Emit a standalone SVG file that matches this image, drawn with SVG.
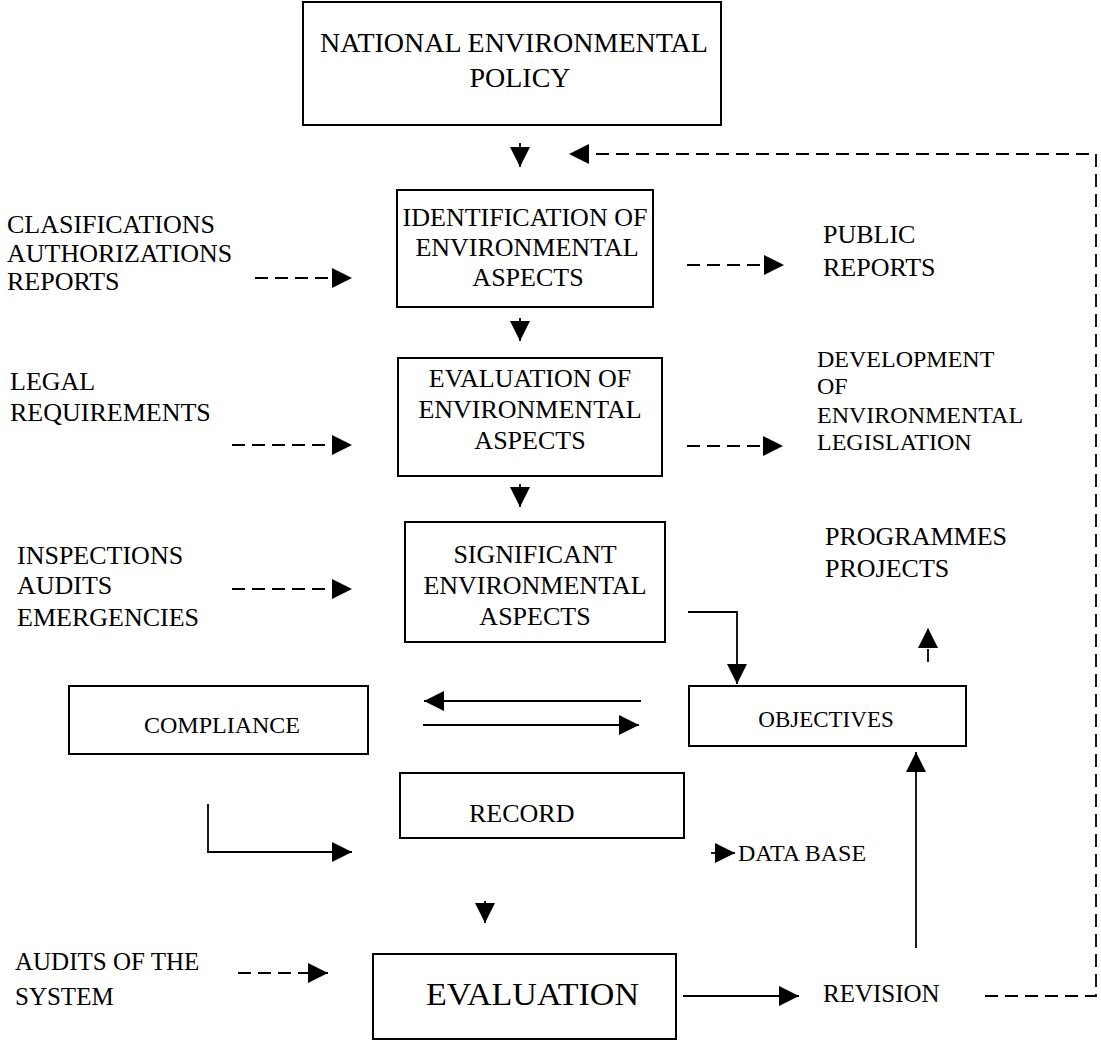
<svg xmlns="http://www.w3.org/2000/svg" width="1101" height="1041" viewBox="0 0 1101 1041">
<defs>
<marker id="ah" markerUnits="userSpaceOnUse" markerWidth="20" markerHeight="20" viewBox="0 0 20 20" refX="20" refY="10" orient="auto">
<path d="M0,0 L20,10 L0,20 z" fill="#000" stroke="none"/>
</marker>
<style>
.box{fill:#fff;stroke:#000;stroke-width:2}
text{font-family:"Liberation Serif","Times New Roman",serif;fill:#000}
.c{text-anchor:middle}
.f26{font-size:26px}
.con{fill:none;stroke:#000;stroke-width:1.8}
.d{stroke-dasharray:13 7}
.a{marker-end:url(#ah)}
</style>
</defs>
<rect width="1101" height="1041" fill="#fff"/>
<g id="n-policy">
<rect class="box" x="303" y="2" width="418" height="123"/>
<text class="c" x="514" y="52" font-size="28">NATIONAL ENVIRONMENTAL</text>
<text class="c" x="520" y="87" font-size="28">POLICY</text>
</g>
<g id="n-identification">
<rect class="box" x="397" y="190" width="256" height="117"/>
<text class="c f26" x="525" y="226">IDENTIFICATION OF</text>
<text class="c f26" x="527" y="256">ENVIRONMENTAL</text>
<text class="c f26" x="528" y="286">ASPECTS</text>
</g>
<g id="n-evaluation-aspects">
<rect class="box" x="398" y="358" width="264" height="118"/>
<text class="c f26" x="530" y="387">EVALUATION OF</text>
<text class="c f26" x="530" y="418">ENVIRONMENTAL</text>
<text class="c f26" x="530" y="449">ASPECTS</text>
</g>
<g id="n-significant">
<rect class="box" x="405" y="522" width="260" height="120"/>
<text class="c f26" x="535" y="563">SIGNIFICANT</text>
<text class="c f26" x="535" y="594">ENVIRONMENTAL</text>
<text class="c f26" x="535" y="625">ASPECTS</text>
</g>
<g id="n-compliance">
<rect class="box" x="69" y="686" width="299" height="68"/>
<text class="c" x="222" y="733" font-size="24">COMPLIANCE</text>
</g>
<g id="n-objectives">
<rect class="box" x="689" y="686" width="277" height="60"/>
<text class="c" x="826" y="727" font-size="23">OBJECTIVES</text>
</g>
<g id="n-record">
<rect class="box" x="400" y="773" width="284" height="65"/>
<text class="f26" x="469" y="822">RECORD</text>
</g>
<g id="n-evaluation">
<rect class="box" x="373" y="954" width="303" height="85"/>
<text x="426" y="1005" font-size="32" textLength="213" lengthAdjust="spacingAndGlyphs">EVALUATION</text>
</g>
<g id="n-classifications">
<text class="f26" x="7" y="233">CLASIFICATIONS</text>
<text class="f26" x="7" y="262">AUTHORIZATIONS</text>
<text class="f26" x="7" y="290">REPORTS</text>
</g>
<g id="n-public">
<text class="f26" x="823" y="243">PUBLIC</text>
<text class="f26" x="823" y="276">REPORTS</text>
</g>
<g id="n-legal">
<text class="f26" x="10" y="390">LEGAL</text>
<text class="f26" x="10" y="421">REQUIREMENTS</text>
</g>
<g id="n-development">
<text x="817" y="367" font-size="24">DEVELOPMENT</text>
<text x="817" y="394" font-size="24">OF</text>
<text x="817" y="423" font-size="24">ENVIRONMENTAL</text>
<text x="817" y="450" font-size="24">LEGISLATION</text>
</g>
<g id="n-inspections">
<text class="f26" x="17" y="564">INSPECTIONS</text>
<text class="f26" x="17" y="594">AUDITS</text>
<text class="f26" x="17" y="626">EMERGENCIES</text>
</g>
<g id="n-programmes">
<text class="f26" x="825" y="545">PROGRAMMES</text>
<text class="f26" x="825" y="577">PROJECTS</text>
</g>
<g id="n-database">
<text x="738" y="861" font-size="24">DATA BASE</text>
</g>
<g id="n-audits-system">
<text x="15" y="970" font-size="25">AUDITS OF THE</text>
<text x="15" y="1005" font-size="25">SYSTEM</text>
</g>
<g id="n-revision">
<text x="823" y="1002" font-size="25">REVISION</text>
</g>
<g id="connectors">
<path class="con a" d="M520,143 L520,167"/>
<path class="con d a" d="M985,996 L1096,996 L1096,154 L569,154"/>
<path class="con d a" d="M255,278 L352,278"/>
<path class="con d a" d="M687,265 L784,265"/>
<path class="con a" d="M520,318 L520,341"/>
<path class="con d a" d="M232,445 L352,445"/>
<path class="con d a" d="M687,446 L783,446"/>
<path class="con a" d="M520,484 L520,507"/>
<path class="con d a" d="M232,589 L352,589"/>
<path class="con a" d="M688,612 L737,612 L737,684"/>
<path class="con d a" d="M928,662 L928,628"/>
<path class="con a" d="M641,701 L424,701"/>
<path class="con a" d="M423,725 L639,725"/>
<path class="con a" d="M208,804 L208,852 L352,852"/>
<path class="con a" d="M711,853 L735,853"/>
<path class="con a" d="M485,901 L485,923"/>
<path class="con d a" d="M238,973 L328,973"/>
<path class="con a" d="M683,996 L799,996"/>
<path class="con a" d="M916,948 L916,752"/>
</g>
</svg>
